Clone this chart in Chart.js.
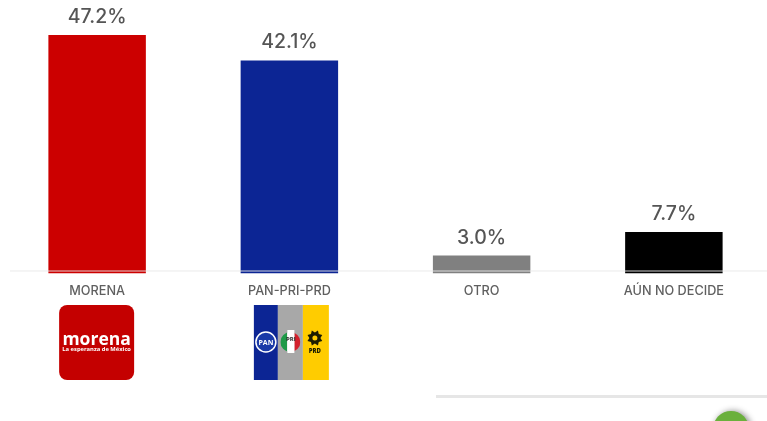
<!DOCTYPE html>
<html>
<head>
<meta charset="utf-8">
<title>Encuesta</title>
<script src="https://cdn.jsdelivr.net/npm/chart.js@4"></script>
<style>
  html, body { margin: 0; padding: 0; background: #fff; overflow: hidden; }
  #box { position: absolute; left: 0; top: 0; width: 770px; height: 421px; }
</style>
</head>
<body>
<div id="box"><canvas id="grafico"></canvas></div>
<script>
const categorias = ["MORENA", "PAN-PRI-PRD", "OTRO", "AÚN NO DECIDE"];
const valores = [47.2, 42.1, 3.0, 7.7];
const colores = ["#cc0000", "#0c2594", "#808080", "#000000"];

const fuente = "Inter, 'Open Sans', sans-serif";

// etiquetas de porcentaje arriba de cada barra
const etiquetasPlugin = {
  id: "etiquetas",
  afterDatasetsDraw(chart) {
    const ctx = chart.ctx;
    ctx.save();
    ctx.font = "500 19.5px " + fuente;
    ctx.fillStyle = "#555555";
    ctx.textAlign = "center";
    ctx.textBaseline = "alphabetic";
    chart.getDatasetMeta(0).data.forEach((bar, i) => {
      ctx.fillText(valores[i].toFixed(1) + "%", bar.x, bar.y - 12);
    });
    ctx.restore();
  }
};

// linea del cero, va encima de las barras
const lineaPlugin = {
  id: "linea",
  afterDatasetsDraw(chart) {
    const ctx = chart.ctx;
    const y = chart.scales.y.getPixelForValue(0);
    ctx.save();
    ctx.strokeStyle = "rgba(232,232,232,0.9)";
    ctx.lineWidth = 1;
    ctx.beginPath();
    ctx.moveTo(10, y + 0.5);
    ctx.lineTo(767, y + 0.5);
    ctx.stroke();
    ctx.restore();
  }
};

function logoMorena(ctx, cx) {
  const x = cx - 38, y = 305, s = 75;
  ctx.fillStyle = "#c40000";
  ctx.beginPath();
  ctx.roundRect(x, y, s, s, 8);
  ctx.fill();
  ctx.fillStyle = "#fff";
  ctx.textAlign = "center";
  ctx.font = "700 17.5px 'Open Sans', sans-serif";
  ctx.fillText("morena", cx - 0.5, y + 40);
  ctx.font = "700 5.8px 'Open Sans', sans-serif";
  ctx.fillText("La esperanza de México", cx - 0.5, y + 46);
}

function logoAlianza(ctx, cx) {
  const x = cx - 35.5, y = 305, h = 75;
  ctx.fillStyle = "#0c2594";
  ctx.fillRect(x, y, 24, h);
  ctx.fillStyle = "#a8a8a8";
  ctx.fillRect(x + 24, y, 25, h);
  ctx.fillStyle = "#ffcc00";
  ctx.fillRect(x + 49, y, 26, h);

  const cy = y + 37;
  // PAN
  ctx.fillStyle = "#1a3aa8";
  ctx.strokeStyle = "#ffffff";
  ctx.lineWidth = 1.5;
  ctx.beginPath();
  ctx.arc(x + 12, cy, 10, 0, Math.PI * 2);
  ctx.fill();
  ctx.stroke();
  ctx.fillStyle = "#fff";
  ctx.textAlign = "center";
  ctx.font = "700 7px 'Open Sans', sans-serif";
  ctx.fillText("PAN", x + 12, cy + 2.5);
  // PRI
  const px = x + 36.5;
  ctx.save();
  ctx.beginPath();
  ctx.arc(px, cy, 10, 0, Math.PI * 2);
  ctx.clip();
  ctx.fillStyle = "#1f9a48";
  ctx.fillRect(px - 10, cy - 10, 7, 20);
  ctx.fillStyle = "#fff";
  ctx.fillRect(px - 3, cy - 10, 7, 20);
  ctx.fillStyle = "#d3202c";
  ctx.fillRect(px + 4, cy - 10, 6, 20);
  ctx.restore();
  ctx.fillStyle = "#fff";
  ctx.fillRect(px - 3, cy - 12, 7, 23);
  ctx.fillStyle = "#222";
  ctx.font = "700 6px 'Open Sans', sans-serif";
  ctx.fillText("PRI", px + 0.5, cy - 1);
  // PRD
  const dx = x + 61;
  ctx.fillStyle = "#1c1c00";
  ctx.beginPath();
  for (let a = 0; a < 16; a++) {
    const r = a % 2 ? 8 : 5.5;
    const ang = a * Math.PI / 8;
    ctx.lineTo(dx + r * Math.cos(ang), cy - 4 + r * Math.sin(ang));
  }
  ctx.closePath();
  ctx.fill();
  ctx.fillStyle = "#ffcc00";
  ctx.beginPath();
  ctx.arc(dx, cy - 4, 2.5, 0, Math.PI * 2);
  ctx.fill();
  ctx.fillStyle = "#1c1c00";
  ctx.font = "800 6px 'Open Sans', sans-serif";
  ctx.fillText("PRD", dx, cy + 11);
}

const extrasPlugin = {
  id: "extras",
  afterDraw(chart) {
    const ctx = chart.ctx;
    const xs = chart.scales.x;
    ctx.save();
    logoMorena(ctx, xs.getPixelForValue(0));
    logoAlianza(ctx, xs.getPixelForValue(1));

    // lo que se alcanza a ver de la pagina abajo a la derecha
    ctx.fillStyle = "#e6e6e6";
    ctx.fillRect(436, 395, 331, 3);
    ctx.shadowColor = "rgba(0,0,0,0.45)";
    ctx.shadowBlur = 6;
    ctx.shadowOffsetX = 2;
    ctx.fillStyle = "#6ab03c";
    ctx.beginPath();
    ctx.arc(731, 429, 18, 0, Math.PI * 2);
    ctx.fill();
    ctx.restore();
  }
};

new Chart(document.getElementById("grafico"), {
  type: "bar",
  data: {
    labels: categorias,
    datasets: [{
      data: valores,
      backgroundColor: colores,
      base: -0.6,
      categoryPercentage: 1,
      barPercentage: 0.507
    }]
  },
  plugins: [lineaPlugin, etiquetasPlugin, extrasPlugin],
  options: {
    responsive: true,
    maintainAspectRatio: false,
    animation: false,
    layout: { padding: { left: 1, right: 0, top: 1, bottom: 0 } },
    plugins: { legend: { display: false }, tooltip: { enabled: false } },
    scales: {
      x: {
        grid: { display: false },
        border: { display: false },
        afterFit(scale) { scale.height = 147.5; },
        ticks: {
          padding: 2,
          maxRotation: 0,
          autoSkip: false,
          color: "#5f5f5f",
          font: { family: fuente, size: 12.7, weight: "500" }
        }
      },
      y: { display: false, min: -0.6, max: 54 }
    }
  }
});
</script>
</body>
</html>
